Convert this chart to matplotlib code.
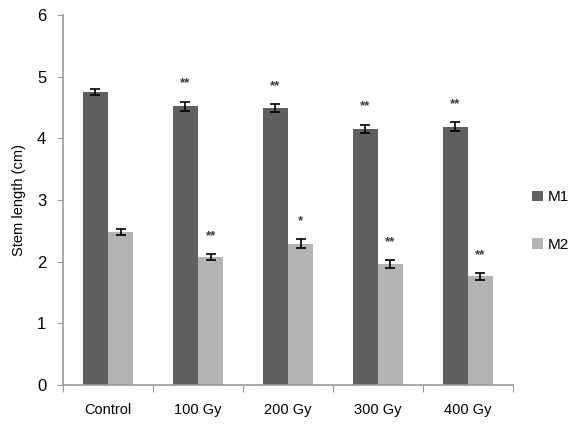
import matplotlib
matplotlib.use("Agg")
import matplotlib.pyplot as plt
import numpy as np

categories = ["Control", "100 Gy", "200 Gy", "300 Gy", "400 Gy"]
m1 = [4.75, 4.52, 4.49, 4.15, 4.19]
m1_err = [0.05, 0.07, 0.06, 0.07, 0.07]
m1_sig = ["", "**", "**", "**", "**"]
m2 = [2.48, 2.07, 2.29, 1.96, 1.76]
m2_err = [0.05, 0.05, 0.07, 0.06, 0.05]
m2_sig = ["", "**", "*", "**", "**"]
yticks = [0, 1, 2, 3, 4, 5, 6]

plt.rcParams['font.family'] = ['Liberation Sans', 'DejaVu Sans']

fig = plt.figure(figsize=(5.73, 4.25), dpi=100)
ax = fig.add_axes([0.11, 0.094, 0.785, 0.871])

x = np.arange(len(categories))
w = 0.28
c1, c2 = "#5f5f5f", "#b3b3b3"
b1 = ax.bar(x - w/2, m1, w, color=c1, label="M1", zorder=2)
b2 = ax.bar(x + w/2, m2, w, color=c2, label="M2", zorder=2)
ax.errorbar(x - w/2, m1, yerr=m1_err, fmt="none", ecolor="black", elinewidth=1.2, capsize=3.5, capthick=1.2, zorder=3)
ax.errorbar(x + w/2, m2, yerr=m2_err, fmt="none", ecolor="black", elinewidth=1.2, capsize=3.5, capthick=1.2, zorder=3)

for xi, v, e, s in zip(x - w/2, m1, m1_err, m1_sig):
    if s:
        ax.annotate(s, (xi, v + e), xytext=(0, 9), textcoords="offset points",
                    ha="center", va="bottom", fontsize=9.5, fontweight="bold", color="#3a3a4a")
for xi, v, e, s in zip(x + w/2, m2, m2_err, m2_sig):
    if s:
        ax.annotate(s, (xi, v + e), xytext=(0, 9), textcoords="offset points",
                    ha="center", va="bottom", fontsize=9.5, fontweight="bold", color="#3a3a4a")

ax.set_xlim(-0.5, len(categories) - 0.5)
ax.set_ylim(0, 6)
ax.set_yticks(yticks)
ax.set_yticklabels([str(t) for t in yticks], fontsize=12)
ax.set_xticks(np.arange(len(categories) + 1) - 0.5, minor=False)
ax.set_xticklabels([""] * (len(categories) + 1))
ax.set_xticks(x, minor=True)
ax.set_xticklabels(categories, minor=True, fontsize=10.5)
ax.tick_params(axis="x", which="minor", length=0, pad=13)
ax.tick_params(axis="x", which="major", length=5, direction="out", color="#999999")
ax.tick_params(axis="y", length=4, direction="out", color="#999999", pad=8)

for sp in ["top", "right"]:
    ax.spines[sp].set_visible(False)
for sp in ["left", "bottom"]:
    ax.spines[sp].set_color("#999999")
    ax.spines[sp].set_linewidth(1.2)

ax.set_ylabel("Stem length (cm)", fontsize=10.5, labelpad=8)

leg = fig.legend(handles=[b1, b2], labels=["M1", "M2"], loc="center left",
                 bbox_to_anchor=(0.905, 0.48), frameon=False, fontsize=11,
                 handlelength=0.7, handleheight=0.7, handletextpad=0.3,
                 labelspacing=2.2)

fig.savefig("out.png", dpi=100)
